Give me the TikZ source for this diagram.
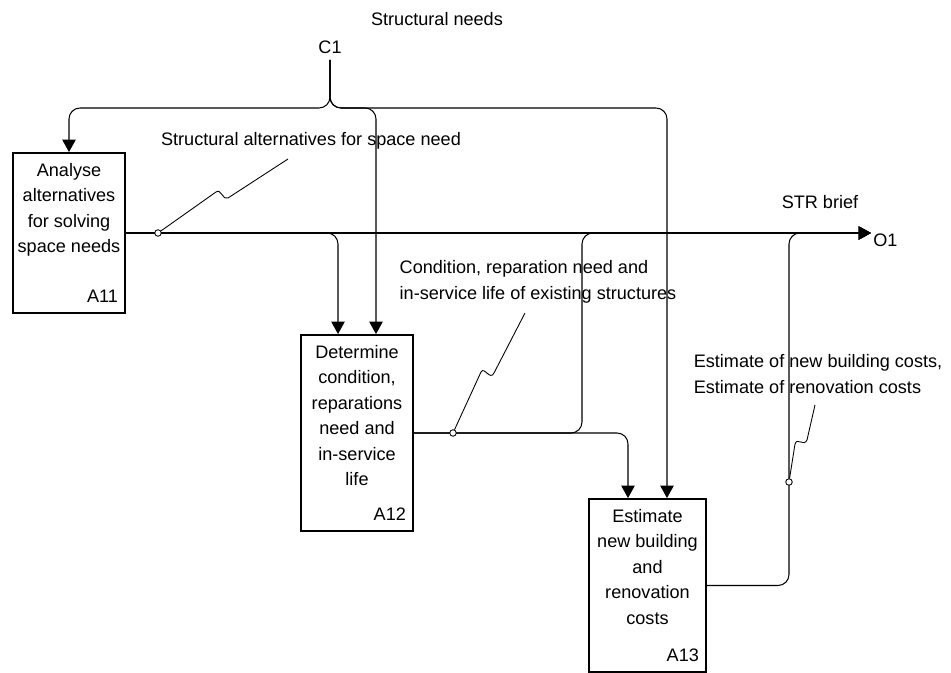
\documentclass[tikz,border=0pt]{standalone}
\usepackage{fontspec}
\setmainfont{Liberation Sans}
\usetikzlibrary{arrows.meta}

\begin{document}
\begin{tikzpicture}[x=0.02cm,y=-0.02cm,
  font=\fontsize{10.3}{14.5}\selectfont,
  line width=0.6pt,
  arr/.style={-{Triangle[length=0.25cm,width=0.27cm]},rounded corners=0.22cm},
  box/.style={draw,line width=1.1pt,inner sep=0pt},
  boxtext/.style={anchor=north,align=center,inner sep=0pt,yshift=-0.21cm},
  boxnum/.style={anchor=south east,inner sep=0pt,xshift=-0.15cm,yshift=0.22cm},
  tap/.style={circle,draw,fill=white,inner sep=0pt,minimum size=0.13cm,line width=0.5pt},
  squig/.style={line width=0.5pt}]
\useasboundingbox (0,0) rectangle (951,673);

% activities
\node[box,minimum width=2.24cm,minimum height=3.2cm] (a11) at (69,233) {};
\node[boxtext] (a11t) at (a11.north) {Analyse\\alternatives\\for solving\\space needs};
\node[boxnum] (a11n) at (a11.south east) {A11};

\node[box,minimum width=2.24cm,minimum height=3.92cm] (a12) at (357,433) {};
\node[boxtext] (a12t) at (a12.north) {Determine\\condition,\\reparations\\need and\\in-service\\life};
\node[boxnum] (a12n) at (a12.south east) {A12};

\node[box,minimum width=2.34cm,minimum height=3.46cm] (a13) at (647.5,585.5) {};
\node[boxtext] (a13t) at (a13.north) {Estimate\\new building\\and\\renovation\\costs};
\node[boxnum] (a13n) at (a13.south east) {A13};

% labels
\node (need) at (437,19) {Structural needs};
\node (c1) at (330,47) {C1};
\node (l1) at (311,141) {Structural alternatives for space need};
\node (str) at (820,202) {STR brief};
\node[anchor=west,inner sep=1pt] (o1) at (871,240) {O1};
\node[align=left] (l2) at (538,282) {Condition, reparation need and\\in-service life of existing structures};
\node[align=left] (l3) at (818,374) {Estimate of new building costs,\\Estimate of renovation costs};

% control C1
\coordinate (fork) at (330,108);
\draw[arr] (c1.south) -- (fork) -| (a11.north);
\draw[arr] (c1.south) -- (fork) -| ([xshift=0.38cm]a12.north);
\draw[arr] (c1.south) -- (fork) -| ([xshift=0.39cm]a13.north);

% outputs
\coordinate (j1) at (582,233);
\coordinate (j2) at (789,233);
\draw[arr] (a11.east) -- (o1.west |- a11.east);
\draw[arr] (a11.east) -| ([xshift=-0.38cm]a12.north);
\draw[arr] (a12.east) -| ([xshift=-0.39cm]a13.north);
\draw[arr] (a12.east) -| (j1) -- (o1.west |- j1);
\draw[arr] (a13.east) -| (j2) -- (o1.west |- j2);

% squiggles to the arrow labels
\node[tap] (t1) at (158,233) {};
\node[tap] (t2) at (453,433) {};
\node[tap] (t3) at (789,482) {};
\draw[squig] (t1) -- (216,192) .. controls (221,188) and (223,201) .. (228,198) -- (288,159);
\draw[squig] (t2) -- (481,372) .. controls (484,366) and (490,381) .. (494,373) -- (525,313);
\draw[squig] (t3) -- (795,444) .. controls (797,437) and (804,447) .. (807,440) -- (815,405);
\end{tikzpicture}
\end{document}
